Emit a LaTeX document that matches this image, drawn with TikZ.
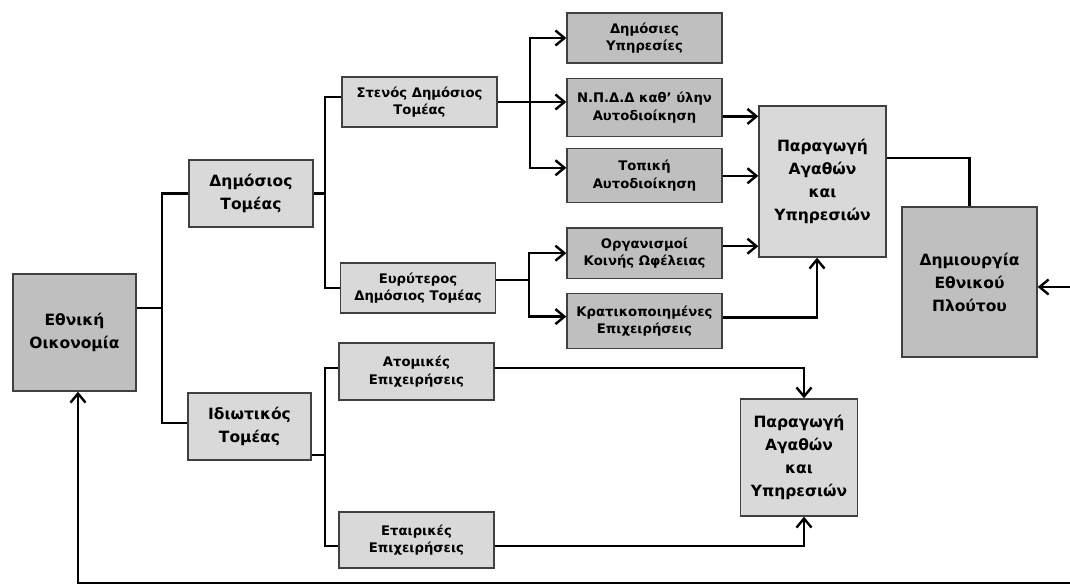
\documentclass[tikz,border=0pt]{standalone}
\usepackage{fontspec}
\setmainfont{DejaVu Sans}
\usetikzlibrary{positioning,arrows.meta}

\begin{document}
\begin{tikzpicture}[x=1pt, y=-1pt,
every node/.style={font=\bfseries\fontsize{13.2}{17.5}\selectfont},
unit/.style={rectangle, draw=black!75, line width=1.4pt, align=center, inner sep=0pt, minimum width=155pt, minimum height=50pt},
dark/.style={fill=black!25},
light/.style={fill=black!15},
big/.style={font=\bfseries\fontsize{15.5}{23}\selectfont},
link/.style={line width=2.4pt},
flow/.style={line width=2.4pt, -{Straight Barb[length=9pt,width=15pt]}}
]
\useasboundingbox (0,0) rectangle (1070,585);

\node [unit, dark, big, minimum width=123pt, minimum height=117pt] (ethniki) at (74.5,332.5) {Εθνική\\Οικονομία};
\node [unit, light, big, minimum width=124pt, minimum height=67pt] (dimosios) at (251,193.5) {Δημόσιος\\Τομέας};
\node [unit, light, big, minimum width=123pt, minimum height=67pt] (idiotikos) at (249.5,426.5) {Ιδιωτικός\\Τομέας};

\node [unit, light] (stenos) at (419.5,102) {Στενός Δημόσιος\\Τομέας};
\node [unit, light] (evryteros) at (418,288) {Ευρύτερος\\Δημόσιος Τομέας};
\node [unit, light, minimum height=57pt] (atomikes) at (416.5,371.5) {Ατομικές\\Επιχειρήσεις};
\node [unit, light, minimum height=56pt] (etairikes) at (416.5,540) {Εταιρικές\\Επιχειρήσεις};

\node [unit, dark] (ypiresies) at (644.5,38) {Δημόσιες\\Υπηρεσίες};
\node [unit, dark, minimum height=58pt, below=14pt of ypiresies] (npdd) {Ν.Π.Δ.Δ καθ’ ύλην\\Αυτοδιοίκηση};
\node [unit, dark, minimum height=54pt, below=11pt of npdd] (topiki) {Τοπική\\Αυτοδιοίκηση};
\node [unit, dark, below=24pt of topiki] (organismoi) {Οργανισμοί\\Κοινής Ωφέλειας};
\node [unit, dark, minimum height=55pt, below=14pt of organismoi] (kratikes) {Κρατικοποιημένες\\Επιχειρήσεις};

\node [unit, light, big, minimum width=127pt, minimum height=151pt] (paragogi) at (822.5,181.5) {Παραγωγή\\Αγαθών\\και\\Υπηρεσιών};
\node [unit, light, big, minimum width=117pt, minimum height=117pt] (paragogib) at (799,457.5) {Παραγωγή\\Αγαθών\\και\\Υπηρεσιών};
\node [unit, dark, big, minimum width=135pt, minimum height=150pt] (ploutos) at (969.5,282) {Δημιουργία\\Εθνικού\\Πλούτου};

\coordinate (fork1) at (162,308);
\coordinate (fork2) at (325,193.5);
\coordinate (fork3) at (530,102);
\coordinate (fork4) at (529,280);
\coordinate (fork5) at (325,455);
\coordinate (edgeR) at (1070,287);
\coordinate (edgeB) at (1070,583);

\draw [link] ([yshift=24.5pt]ethniki.east) -- (fork1);
\draw [link] (dimosios.west) -| (fork1) |- ([yshift=3.5pt]idiotikos.west);

\draw [link] (dimosios.east) -- (fork2);
\draw [link] ([yshift=5pt]stenos.west) -| (fork2) |- (evryteros.west);

\draw [link] (stenos.east) -- (fork3);
\draw [flow] (fork3) |- (ypiresies.west);
\draw [flow] (fork3) -- (fork3 -| npdd.west);
\draw [flow] (fork3) |- ([yshift=8pt]topiki.west);

\draw [link] ([yshift=8pt]evryteros.east) -- (fork4);
\draw [flow] (fork4) |- (organismoi.west);
\draw [flow] (fork4) |- ([yshift=4.5pt]kratikes.west);

\draw [flow] ([yshift=-9pt]npdd.east) -- ([yshift=-9pt]npdd.east -| paragogi.west);
\draw [flow] (topiki.east) -- (topiki.east -| paragogi.west);
\draw [flow] ([yshift=7pt]organismoi.east) -- ([yshift=7pt]organismoi.east -| paragogi.west);
\draw [flow] ([yshift=3.5pt]kratikes.east) -| ([xshift=-5.5pt]paragogi.south);

\draw [link] ([yshift=23.5pt]paragogi.east) -| (ploutos.north);
\draw [flow] (edgeR) -- (edgeR -| ploutos.east);
\draw [flow] (edgeB) -| ([xshift=3.5pt]ethniki.south);

\draw [link] ([yshift=-28.5pt]idiotikos.east) -- (fork5);
\draw [link] ([yshift=3.5pt]atomikes.west) -| (fork5) |- ([yshift=-6pt]etairikes.west);
\draw [flow] ([yshift=3.5pt]atomikes.east) -| ([xshift=5pt]paragogib.north);
\draw [flow] ([yshift=-6pt]etairikes.east) -| ([xshift=5pt]paragogib.south);

\end{tikzpicture}
\end{document}
